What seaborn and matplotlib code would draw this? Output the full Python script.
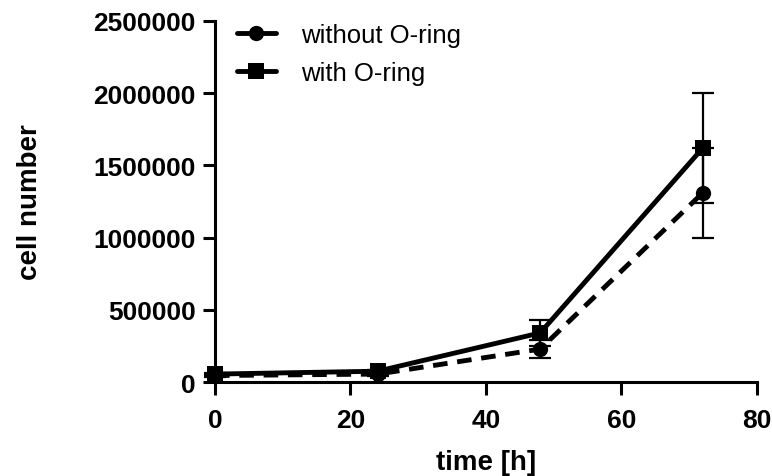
import matplotlib
matplotlib.use("Agg")
import matplotlib.pyplot as plt
from matplotlib.lines import Line2D
import seaborn as sns
import pandas as pd
import numpy as np

# data
time_h = [0, 24, 48, 72]
without_mean = [45000, 55000, 228000, 1310000]
without_sd = [10000, 10000, 60000, 310000]
with_mean = [55000, 75000, 340000, 1620000]
with_sd = [10000, 10000, 90000, 380000]
series_names = ["without O-ring", "with O-ring"]
x_ticks = [0, 20, 40, 60, 80]
y_ticks = [0, 500000, 1000000, 1500000, 2000000, 2500000]

sns.set_theme(style="ticks")
plt.rcParams["font.family"] = ["Liberation Sans", "DejaVu Sans"]
plt.rcParams["text.color"] = "black"
plt.rcParams["axes.labelcolor"] = "black"
plt.rcParams["xtick.color"] = "black"
plt.rcParams["ytick.color"] = "black"

df = pd.DataFrame({
    "time": time_h * 2,
    "cells": without_mean + with_mean,
    "group": [series_names[0]] * 4 + [series_names[1]] * 4,
})

fig = plt.figure(figsize=(7.72, 4.77), dpi=100)
ax = fig.add_axes([0.2785, 0.197, 0.702, 0.757])

ax.errorbar(time_h, without_mean, yerr=without_sd, fmt="none", ecolor="black",
            elinewidth=1.6, capsize=8, capthick=1.6, clip_on=False, zorder=2)
ax.errorbar(time_h, with_mean, yerr=with_sd, fmt="none", ecolor="black",
            elinewidth=1.6, capsize=8, capthick=1.6, clip_on=False, zorder=2)

sns.lineplot(data=df, x="time", y="cells", hue="group", style="group",
             palette={series_names[0]: "black", series_names[1]: "black"},
             dashes={series_names[0]: (3, 2), series_names[1]: ""},
             markers={series_names[0]: "o", series_names[1]: "s"},
             markersize=11, linewidth=3.5, markeredgewidth=0,
             ax=ax, legend=False, clip_on=False, zorder=3)
for ln in ax.lines:
    ln.set_clip_on(False)

ax.set_xlim(0, 80)
ax.set_ylim(0, 2500000)
ax.set_xticks(x_ticks)
ax.set_yticks(y_ticks)
ax.set_xticklabels([str(v) for v in x_ticks], fontsize=19, fontweight="bold")
ax.set_yticklabels([str(v) for v in y_ticks], fontsize=19, fontweight="bold")
ax.tick_params(axis="both", length=9, width=2.2, color="black", labelcolor="black")
ax.tick_params(axis="x", pad=10)
ax.tick_params(axis="y", pad=5)
for s in ["left", "bottom"]:
    ax.spines[s].set_linewidth(2.2)
    ax.spines[s].set_color("black")
sns.despine(ax=ax)

ax.set_xlabel("time [h]", fontsize=20, fontweight="bold", labelpad=12, color="black")
ax.set_ylabel("cell number", fontsize=20, fontweight="bold", labelpad=36, color="black")

handles = [
    Line2D([], [], color="black", lw=3.5, marker="o", markersize=11, markeredgewidth=0),
    Line2D([], [], color="black", lw=3.5, marker="s", markersize=11, markeredgewidth=0),
]
ax.legend(handles, series_names, loc="upper left", bbox_to_anchor=(-0.002, 1.058),
          frameon=False, fontsize=18.5, handlelength=1.5, handletextpad=1.0,
          labelspacing=0.55)

fig.savefig("out.png", dpi=100)
